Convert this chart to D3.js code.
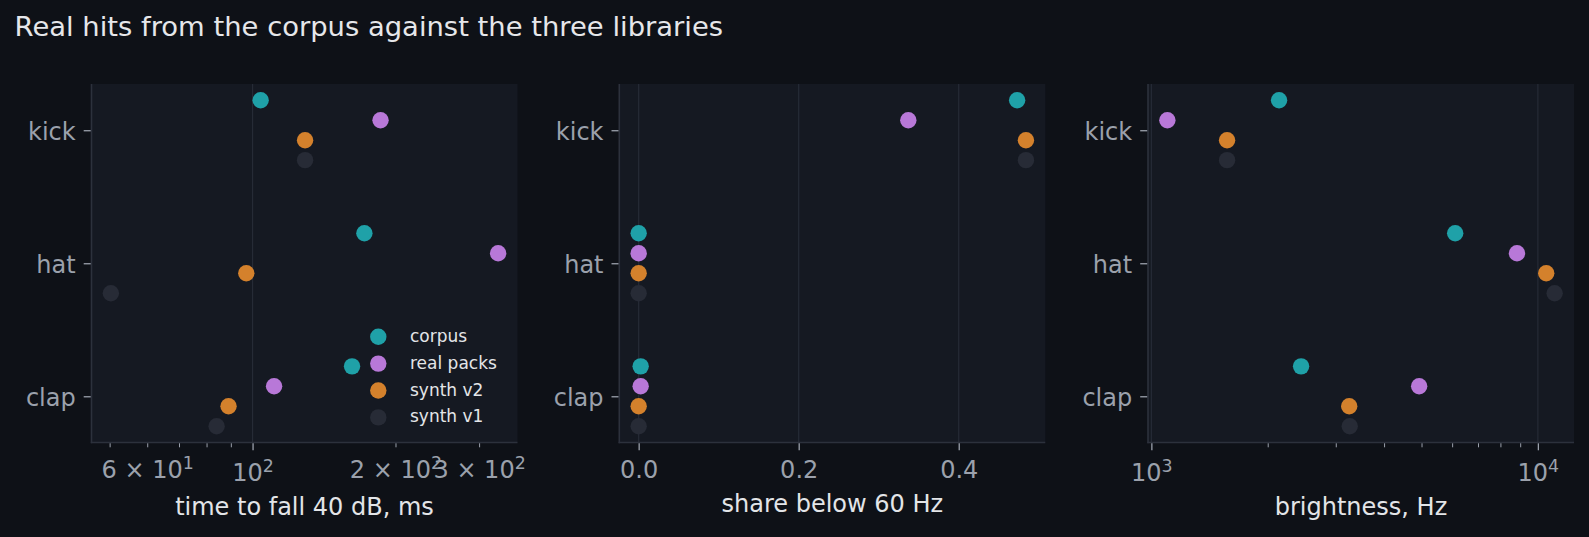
<!DOCTYPE html>
<html>
<head>
<meta charset="utf-8">
<script src="https://cdn.jsdelivr.net/npm/d3@7"></script>
<style>
  html, body { margin: 0; padding: 0; background: #0e1117; }
  svg { display: block; font-family: "DejaVu Sans", sans-serif; }
</style>
</head>
<body>
<svg id="chart" width="1589" height="537"></svg>
<script>
// ---------------- data ----------------
const categories = ["kick", "hat", "clap"];
const seriesNames = ["corpus", "real packs", "synth v2", "synth v1"];
const seriesColors = ["#1fa1a8", "#b878d8", "#d4812c", "#272b36"];

// time to fall 40 dB, ms   [kick, hat, clap]
const decayCorpus    = [104, 172, 162];
const decayRealPacks = [186, 329, 111];
const decaySynthV2   = [129, 97, 89];
const decaySynthV1   = [129, 50.3, 84];

// share below 60 Hz   [kick, hat, clap]
const lowCorpus    = [0.473, 0.0, 0.0025];
const lowRealPacks = [0.337, 0.0, 0.0025];
const lowSynthV2   = [0.484, 0.0, 0.0];
const lowSynthV1   = [0.484, 0.0, 0.0];

// brightness, Hz   [kick, hat, clap]
const brightCorpus    = [2140, 6110, 2440];
const brightRealPacks = [1100, 8830, 4930];
const brightSynthV2   = [1570, 10510, 3250];
const brightSynthV1   = [1570, 11050, 3260];

// tick values / labels
const decayMajorTicks = [100];
const decayMinorTicks = [50, 60, 70, 80, 90, 200, 300];
const decayMinorLabels = { 60: ["6 × 10", "1"], 200: ["2 × 10", "2"], 300: ["3 × 10", "2"] };
const lowTicks = [0.0, 0.2, 0.4];
const brightMajorTicks = [1000, 10000];
const brightMinorTicks = [2000, 3000, 4000, 5000, 6000, 7000, 8000, 9000];

const titleText = "Real hits from the corpus against the three libraries";
const xLabels = ["time to fall 40 dB, ms", "share below 60 Hz", "brightness, Hz"];

// ---------------- style / layout ----------------
const C = {
  panel: "#151922", spine: "#2c313c", grid: "#262b36",
  tick: "#9ba1ac", label: "#e3e5e8", title: "#e6e7ea", legend: "#e3e5e8"
};
const panelLefts = [91.5, 619.3, 1148];
const panelW = 426, plotTop = 84, plotBottom = 442.5;
const offsets = [-0.225, -0.075, 0.075, 0.225];

const svg = d3.select("#chart");
svg.append("rect").attr("width", 1589).attr("height", 537).attr("fill", "#0e1117");

svg.append("text").attr("x", 14.6).attr("y", 35.7)
  .attr("font-size", 27.4).attr("fill", C.title).text(titleText);

const yScale = d3.scaleLinear().domain([-0.3475, 2.3475]).range([plotTop, plotBottom]);

function logDomain(vals) {
  const lo = Math.log10(d3.min(vals)), hi = Math.log10(d3.max(vals));
  const m = (hi - lo) * 0.05;
  return [Math.pow(10, lo - m), Math.pow(10, hi + m)];
}
function linDomain(vals) {
  const lo = d3.min(vals), hi = d3.max(vals);
  const m = (hi - lo) * 0.05;
  return [lo - m, hi + m];
}

const panels = [
  { series: [decayCorpus, decayRealPacks, decaySynthV2, decaySynthV1], log: true,
    major: decayMajorTicks, minor: decayMinorTicks, minorLabels: decayMinorLabels, labelY: 515 },
  { series: [lowCorpus, lowRealPacks, lowSynthV2, lowSynthV1], log: false,
    major: lowTicks, minor: [], minorLabels: {}, labelY: 511.5 },
  { series: [brightCorpus, brightRealPacks, brightSynthV2, brightSynthV1], log: true,
    major: brightMajorTicks, minor: brightMinorTicks, minorLabels: {}, labelY: 515 }
];

panels.forEach((p, pi) => {
  const left = panelLefts[pi], right = left + panelW;
  const all = p.series.flat();
  const x = p.log
    ? d3.scaleLog().domain(logDomain(all)).range([left, right])
    : d3.scaleLinear().domain(linDomain(all)).range([left, right]);

  const g = svg.append("g");
  g.append("rect").attr("x", left).attr("y", plotTop).attr("width", panelW)
    .attr("height", plotBottom - plotTop).attr("fill", C.panel);

  // gridlines at major ticks
  g.selectAll(".grid").data(p.major).join("line")
    .attr("x1", d => x(d)).attr("x2", d => x(d))
    .attr("y1", plotTop).attr("y2", plotBottom)
    .attr("stroke", C.grid).attr("stroke-width", 1.2);

  // spines
  g.append("line").attr("x1", left).attr("x2", left).attr("y1", plotTop).attr("y2", plotBottom + 0.75)
    .attr("stroke", C.spine).attr("stroke-width", 1.6);
  g.append("line").attr("x1", left - 0.75).attr("x2", right).attr("y1", plotBottom).attr("y2", plotBottom)
    .attr("stroke", C.spine).attr("stroke-width", 1.6);

  // x axis major
  const axMaj = g.append("g").attr("transform", `translate(0,${plotBottom + 0.8})`)
    .call(d3.axisBottom(x).tickValues(p.major).tickSize(7).tickSizeOuter(0)
      .tickPadding(10.8).tickFormat(p.log ? () => "" : d3.format(".1f")));
  axMaj.select(".domain").remove();
  axMaj.selectAll(".tick line").attr("stroke", C.tick).attr("stroke-width", 1.3);
  axMaj.selectAll(".tick text").attr("fill", C.tick).attr("font-size", 24)
    .attr("font-family", "DejaVu Sans");
  if (p.log) {
    axMaj.selectAll(".tick text").each(function(d) {
      const t = d3.select(this).attr("dy", null).attr("y", 481 - plotBottom - 0.8).text("");
      t.append("tspan").text("10");
      t.append("tspan").attr("font-size", 17.4).attr("dy", -9.3).text(String(Math.round(Math.log10(d))));
    });
  }

  // x axis minor
  if (p.minor.length) {
    const axMin = g.append("g").attr("transform", `translate(0,${plotBottom + 0.8})`)
      .call(d3.axisBottom(x).tickValues(p.minor).tickSize(4).tickSizeOuter(0).tickFormat(() => ""));
    axMin.select(".domain").remove();
    axMin.selectAll(".tick line").attr("stroke", C.tick).attr("stroke-width", 1.0);
    axMin.selectAll(".tick text").each(function(d) {
      const lab = p.minorLabels[d];
      const t = d3.select(this).attr("dy", null).attr("y", 478 - plotBottom - 0.8)
        .attr("fill", C.tick).attr("font-size", 24).attr("font-family", "DejaVu Sans").text("");
      if (lab) {
        t.append("tspan").text(lab[0]);
        t.append("tspan").attr("font-size", 17.4).attr("dy", -9.3).text(lab[1]);
      }
    });
  }

  // y axis
  const axY = g.append("g").attr("transform", `translate(${left - 0.8},0)`)
    .call(d3.axisLeft(yScale).tickValues([0, 1, 2]).tickSize(7).tickSizeOuter(0)
      .tickPadding(8).tickFormat(i => categories[i]));
  axY.select(".domain").remove();
  axY.selectAll(".tick line").attr("stroke", C.tick).attr("stroke-width", 1.3);
  axY.selectAll(".tick text").attr("fill", C.tick).attr("font-size", 24)
    .attr("font-family", "DejaVu Sans").attr("dy", "0.37em");

  // dots
  p.series.forEach((vals, si) => {
    g.selectAll(null).data(vals).join("circle")
      .attr("cx", d => x(d))
      .attr("cy", (d, ci) => yScale(ci + offsets[si]))
      .attr("r", 8.2)
      .attr("fill", seriesColors[si]);
  });

  // x label
  svg.append("text").attr("x", left + panelW / 2).attr("y", p.labelY)
    .attr("text-anchor", "middle").attr("font-size", 24).attr("fill", C.label)
    .text(xLabels[pi]);
});

// legend (inside first panel, lower right)
const leg = svg.append("g");
seriesNames.forEach((name, i) => {
  const cy = 336.7 + i * 26.9;
  leg.append("circle").attr("cx", 378.3).attr("cy", cy).attr("r", 8.2).attr("fill", seriesColors[i]);
  leg.append("text").attr("x", 410).attr("y", cy + 5).attr("font-size", 17)
    .attr("fill", C.legend).text(name);
});
</script>
</body>
</html>
